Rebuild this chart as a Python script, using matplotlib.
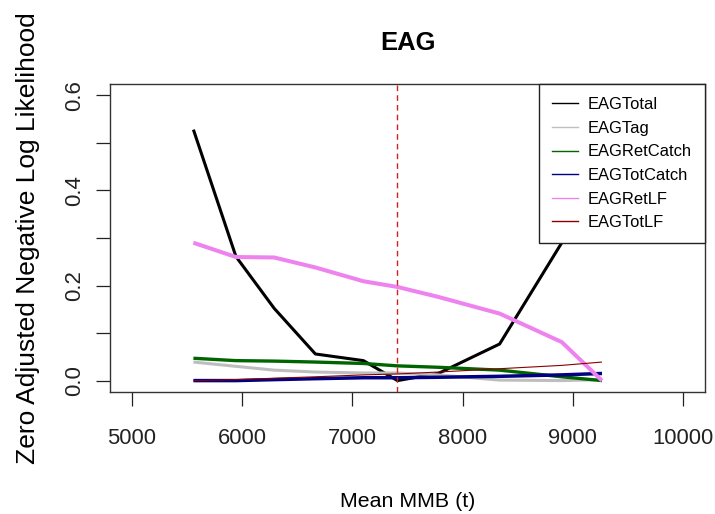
import matplotlib
matplotlib.use("Agg")
import matplotlib.pyplot as plt
from matplotlib import font_manager as fm
from matplotlib.lines import Line2D

# ---- data ----
mmb = [5557, 5943, 6290, 6664, 7100, 7409, 7780, 8336, 8900, 9265]
eag_total = [0.528, 0.261, 0.152, 0.056, 0.042, 0.000, 0.015, 0.077, 0.290, 0.600]
eag_tag = [0.039, 0.030, 0.022, 0.018, 0.016, 0.016, 0.012, 0.001, 0.000, 0.002]
eag_ret_catch = [0.047, 0.042, 0.041, 0.039, 0.036, 0.031, 0.028, 0.022, 0.008, 0.000]
eag_tot_catch = [0.000, 0.000, 0.002, 0.004, 0.006, 0.006, 0.007, 0.009, 0.012, 0.015]
eag_ret_lf = [0.290, 0.260, 0.259, 0.238, 0.209, 0.197, 0.176, 0.141, 0.081, 0.000]
eag_tot_lf = [0.000, 0.002, 0.005, 0.008, 0.012, 0.014, 0.018, 0.025, 0.032, 0.039]
ref_mmb = 7409
series_names = ["EAGTotal", "EAGTag", "EAGRetCatch", "EAGTotCatch", "EAGRetLF", "EAGTotLF"]
x_ticks = [5000, 6000, 7000, 8000, 9000, 10000]
y_ticks = [0.0, 0.1, 0.2, 0.3, 0.4, 0.5, 0.6]
y_tick_labels = ["0.0", "", "0.2", "", "0.4", "", "0.6"]

series = [eag_total, eag_tag, eag_ret_catch, eag_tot_catch, eag_ret_lf, eag_tot_lf]
colors = ["black", "#BEBEBE", "#006400", "#000080", "#EE82EE", "#8B0000"]
widths = [2.2, 2.2, 2.4, 2.5, 2.9, 0.8]

names = {f.name for f in fm.fontManager.ttflist}
if "Liberation Sans Narrow" in names:
    NARROW = ["Liberation Sans Narrow", "DejaVu Sans"]
    k = 1.0
else:
    NARROW = ["Liberation Sans", "DejaVu Sans"]
    k = 0.88
REG = ["Liberation Sans", "DejaVu Sans"]

W, H = 715, 514
fig = plt.figure(figsize=(W / 100, H / 100), dpi=100)
ax = fig.add_axes([110 / W, 1 - 392 / H, (705 - 110) / W, (392 - 84) / H])

for ys, c, lw in zip(series, colors, widths):
    ax.plot(mmb, ys, color=c, lw=lw, solid_capstyle="butt", solid_joinstyle="round")

ax.axvline(ref_mmb, color="#CC2222", lw=1.0, ls=(0, (4, 3)))

ax.set_xlim(4800, 10200)
ax.set_ylim(-0.024, 0.624)
ax.set_xticks(x_ticks)
ax.set_xticklabels([str(v) for v in x_ticks], fontfamily=NARROW, fontsize=18 * k)
ax.set_yticks(y_ticks)
ax.set_yticklabels(y_tick_labels, fontfamily=REG, fontsize=16, rotation=90, va="center")
ax.tick_params(axis="x", length=10, width=0.9, pad=16, colors="#222222")
ax.tick_params(axis="y", length=10, width=0.9, pad=8, colors="#222222")
for sp in ax.spines.values():
    sp.set_color("#333333")
    sp.set_linewidth(1.0)

ax.set_xlabel("Mean MMB (t)", fontfamily=NARROW, fontsize=17.5 * k, labelpad=31)
ax.set_ylabel("Zero Adjusted Negative Log Likelihood", fontfamily=REG, fontsize=19, labelpad=17)

fig.text((110 + 705) / 2 / W, 1 - 50 / H, "EAG", ha="center", va="baseline",
         fontfamily=NARROW, fontsize=21 * k, fontweight="bold")

handles = [Line2D([0], [0], color=c, lw=1.0) for c in colors]
leg = ax.legend(handles, series_names, loc="upper right", bbox_to_anchor=(1.0, 1.0),
                borderaxespad=0, fancybox=False, framealpha=1, edgecolor="#222222",
                prop={"family": NARROW, "size": 13.5 * k}, handlelength=1.55,
                handletextpad=0.6, labelspacing=0.52, borderpad=0.8)
leg.get_frame().set_linewidth(1.0)

fig.savefig("out.png", dpi=100)
